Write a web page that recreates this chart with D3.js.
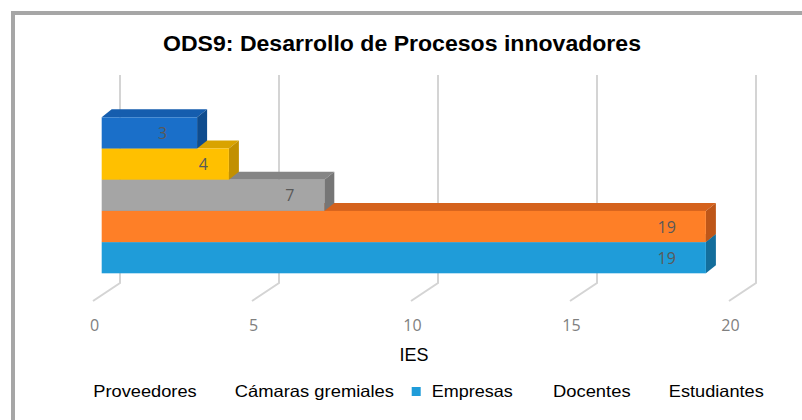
<!DOCTYPE html>
<html>
<head>
<meta charset="utf-8">
<script src="https://cdn.jsdelivr.net/npm/d3@7"></script>
<style>
  html, body { margin: 0; padding: 0; background: #fff; }
  svg { display: block; }
</style>
</head>
<body>
<svg id="chart" width="802" height="420"></svg>
<script>
// ---- data ----
const seriesNames  = ["Empresas", "Docentes", "Estudiantes", "Cámaras gremiales", "Proveedores"]; // bottom -> top
const seriesValues = [19, 19, 7, 4, 3];
const frontColors  = ["#1F9CD9", "#FE7F27", "#A5A5A5", "#FFC000", "#1A6FC9"];
const topColors    = ["#1A86BC", "#D5621D", "#858585", "#D9A300", "#155DAE"];
const sideColors   = ["#136E9C", "#BE5618", "#767676", "#C29000", "#0F4C8E"];
const legendNames  = ["Proveedores", "Cámaras gremiales", "Empresas", "Docentes", "Estudiantes"];
const legendMarked = [false, false, true, false, false];
const tickValues   = [0, 5, 10, 15, 20];
const titleText    = "ODS9: Desarrollo de Procesos innovadores";
const axisTitle    = "IES";

// ---- layout ----
const svg = d3.select("#chart");
const W = 802, H = 420;
svg.append("rect").attr("width", W).attr("height", H).attr("fill", "#fff");
svg.append("rect").attr("x", 13).attr("y", 13).attr("width", 820).attr("height", 440)
  .attr("fill", "none").attr("stroke", "#A6A6A6").attr("stroke-width", 4);

const unitSpan = 636; // px for 0..20
const x = d3.scaleLinear().domain([0, 20]).range([0, unitSpan]);
const backX0 = 120, barX0 = 101.7, floorX0 = 93;
const wallTop = 75, wallBottom = 283, floorY = 301;
const depthDX = 10, depthDY = -8;

const y = d3.scaleBand().domain(seriesNames).range([273.3, 117.3]).padding(0);

// gridlines (back wall + floor)
const grid = svg.append("g");
tickValues.forEach(t => {
  const bx = backX0 + x(t), fx = floorX0 + x(t);
  grid.append("path")
    .attr("d", `M${bx},${wallTop} L${bx},${wallBottom} L${fx},${floorY}`)
    .attr("fill", "none").attr("stroke", "#D4D4D4").attr("stroke-width", 2);
});

// bars, drawn bottom to top
const bars = svg.append("g");
seriesNames.forEach((name, i) => {
  const v = seriesValues[i];
  const x0 = barX0, x1 = barX0 + x(v);
  const yT = y(name), yB = y(name) + y.bandwidth();
  bars.append("path")
    .attr("d", `M${x0},${yT} L${x0 + depthDX},${yT + depthDY} L${x1 + depthDX},${yT + depthDY} L${x1},${yT} Z`)
    .attr("fill", topColors[i]);
  bars.append("path")
    .attr("d", `M${x1},${yT} L${x1 + depthDX},${yT + depthDY} L${x1 + depthDX},${yB + depthDY} L${x1},${yB} Z`)
    .attr("fill", sideColors[i]);
  bars.append("rect")
    .attr("x", x0).attr("y", yT).attr("width", x1 - x0).attr("height", yB - yT)
    .attr("fill", frontColors[i]);
  bars.append("text")
    .attr("x", x1 - (v === 4 ? 21 : 30)).attr("y", (yT + yB) / 2 + 6)
    .attr("text-anchor", "end")
    .attr("font-family", "'Open Sans', sans-serif")
    .attr("font-size", 16).attr("fill", "#595959")
    .text(v);
});

// x axis tick labels
const axis = d3.axisBottom(d3.scaleLinear().domain([0, 20]).range([floorX0 + 1, floorX0 + 1 + unitSpan]))
  .tickValues(tickValues).tickSize(0).tickPadding(0).tickFormat(d3.format("d"));
const ag = svg.append("g").attr("transform", `translate(0, 320)`).call(axis);
ag.select(".domain").remove();
ag.selectAll("text")
  .attr("font-family", "'Open Sans', sans-serif")
  .attr("font-size", 16).attr("fill", "#808080").attr("dy", "0.71em");

// axis title
svg.append("text").attr("x", 414).attr("y", 361).attr("text-anchor", "middle")
  .attr("font-family", "'Liberation Sans', Arial, sans-serif")
  .attr("font-size", 18).attr("fill", "#000")
  .attr("textLength", 29).attr("lengthAdjust", "spacingAndGlyphs")
  .text(axisTitle);

// title
svg.append("text").attr("x", 402).attr("y", 51).attr("text-anchor", "middle")
  .attr("font-family", "'Liberation Sans', Arial, sans-serif").attr("font-weight", "bold")
  .attr("font-size", 22.5).attr("fill", "#000")
  .attr("textLength", 478).attr("lengthAdjust", "spacingAndGlyphs")
  .text(titleText);

// legend
const legendX = [93.3, 234.7, 431.7, 553, 668.8];
const legendW = [103.4, 159.3, 81, 77.6, 95];
const lg = svg.append("g");
legendNames.forEach((n, i) => {
  if (legendMarked[i]) {
    const ci = seriesNames.indexOf(n);
    lg.append("rect").attr("x", legendX[i] - 20).attr("y", 387).attr("width", 9).attr("height", 9)
      .attr("fill", frontColors[ci]);
  }
  lg.append("text").attr("x", legendX[i]).attr("y", 397)
    .attr("font-family", "'Liberation Sans', Arial, sans-serif")
    .attr("font-size", 16.5).attr("fill", "#000")
    .attr("textLength", legendW[i]).attr("lengthAdjust", "spacingAndGlyphs")
    .text(n);
});
</script>
</body>
</html>
